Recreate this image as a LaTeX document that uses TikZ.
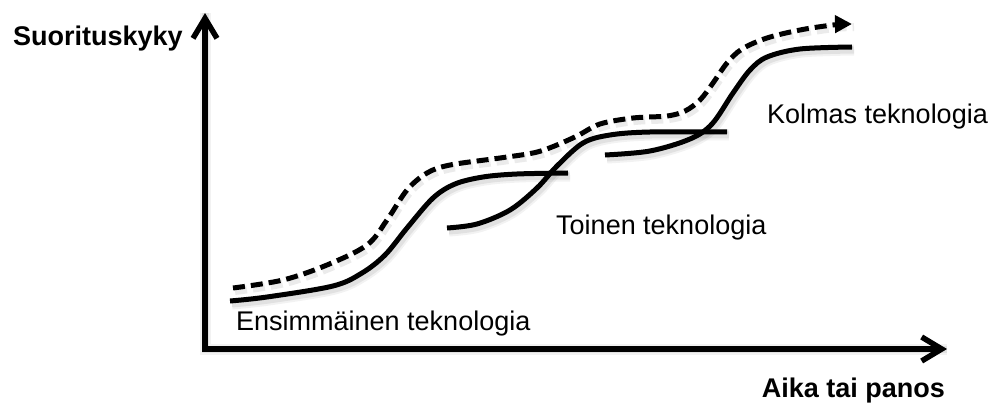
\documentclass[tikz,border=0pt]{standalone}
\usepackage{fontspec}
\setmainfont{Liberation Sans}
\usetikzlibrary{arrows.meta}

% S-curves of the three technologies and their envelope
\newcommand\firsttech[1]{\draw[#1] plot[smooth,tension=0.55] coordinates
  {(230,301) (267,297) (333,286) (362,273) (385,255) (407,228) (433,198) (455,184) (483,177) (517,174) (568,173)};}
\newcommand\secondtech[1]{\draw[#1] plot[smooth,tension=0.55] coordinates
  {(447,228) (477,224) (510,210) (537,188) (557,166) (583,143) (610,135) (650,132) (727,132)};}
\newcommand\thirdtech[1]{\draw[#1] plot[smooth,tension=0.55] coordinates
  {(605,155) (650,151) (690,139) (712,124) (733,93) (750,70) (767,57) (800,49) (852,47)};}
\newcommand\envelopecurve[1]{\draw[#1] plot[smooth,tension=0.55] coordinates
  {(233,288) (283,280) (327,265) (367,245) (387,220) (407,190) (427,173) (450,165) (500,158) (533,153) (552,147) (577,136) (600,124) (633,118) (667,116) (685,111) (700,100) (713,83) (727,63) (742,49) (767,38) (800,30) (833,25) (852,24)};}

\begin{document}
\begin{tikzpicture}[x=1pt,y=-1pt,
  lbl/.style={font=\fontsize{27}{32}\selectfont, inner sep=0pt},
  axlbl/.style={font=\fontsize{27}{32}\selectfont\bfseries, inner sep=0pt},
  axisline/.style={line width=5.5pt, line join=miter,
    {Straight Barb[length=20pt,width=24pt]}-{Straight Barb[length=20pt,width=24pt]}},
  techline/.style={line width=5pt},
  trendline/.style={line width=5pt, dash pattern=on 12pt off 6pt,
    -{Triangle[length=17pt,width=17pt]}},
  shadewide/.style={line width=11pt, black, opacity=0.05},
  shadenarrow/.style={line width=7pt, black, opacity=0.07},
  shadedash/.style={line width=8pt, black, opacity=0.08, dash pattern=on 12pt off 6pt}
]
\useasboundingbox (0,0) rectangle (992,403);

\coordinate (origin) at (205,349);
\coordinate (ytip) at (205,13);
\coordinate (xtip) at (947,349);

% soft shadows under the lines
\begin{scope}[xshift=2pt,yshift=-3pt]
  \draw[shadewide] (ytip) -- (origin) -- (xtip);
  \draw[shadenarrow] (ytip) -- (origin) -- (xtip);
  \firsttech{shadewide}\firsttech{shadenarrow}
  \secondtech{shadewide}\secondtech{shadenarrow}
  \thirdtech{shadewide}\thirdtech{shadenarrow}
  \envelopecurve{shadedash}
\end{scope}

% axes
\draw[axisline] (ytip) -- (origin) -- (xtip);

% technology curves
\firsttech{techline}
\secondtech{techline}
\thirdtech{techline}
\envelopecurve{trendline}

% labels
\node[axlbl, anchor=base west] (ylabel) at (13,46) {Suorituskyky};
\node[axlbl, anchor=base east] (xlabel) at (945,397) {Aika tai panos};
\node[lbl, anchor=base west] (first) at (236,330) {Ensimmäinen teknologia};
\node[lbl, anchor=base west] (second) at (556,234) {Toinen teknologia};
\node[lbl, anchor=base west] (third) at (767,124) {Kolmas teknologia};
\end{tikzpicture}
\end{document}
